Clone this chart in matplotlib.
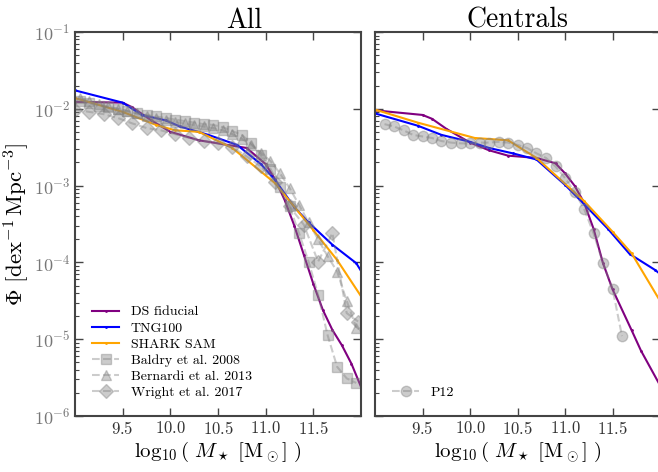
import numpy as np
from matplotlib import pyplot as plt

plt.rcParams["font.family"] = "serif"
plt.rcParams["font.serif"] = ["cmr10"]
plt.rcParams["mathtext.fontset"] = "cm"
plt.rcParams["axes.formatter.use_mathtext"] = True
plt.rcParams["axes.unicode_minus"] = True

# simulations, "All" panel (log10 Phi)
ds_all_x = [9.0, 9.5, 9.6, 9.8, 10.0, 10.3, 10.6, 10.8, 11.0, 11.1, 11.2, 11.3, 11.4, 11.5, 11.6, 11.7, 11.8, 11.9, 12.0]
ds_all_y = [-1.91, -1.92, -1.98, -2.15, -2.30, -2.41, -2.47, -2.51, -2.72, -2.92, -3.19, -3.52, -3.90, -4.28, -4.62, -4.88, -5.08, -5.32, -5.62]
tng_all_x = [9.0, 9.5, 9.7, 9.95, 10.1, 10.4, 10.7, 10.95, 11.1, 11.3, 11.45, 11.7, 11.95, 12.0]
tng_all_y = [-1.76, -1.92, -2.08, -2.15, -2.23, -2.34, -2.47, -2.72, -2.93, -3.28, -3.48, -3.77, -4.01, -4.11]
shark_all_x = [9.0, 9.5, 9.85, 10.05, 10.3, 10.65, 11.1, 11.5, 11.75, 12.0]
shark_all_y = [-1.86, -2.04, -2.21, -2.28, -2.30, -2.51, -2.97, -3.58, -3.97, -4.44]

# simulations, "Centrals" panel
ds_cen_x = [9.0, 9.5, 9.6, 9.75, 10.0, 10.2, 10.4, 10.7, 10.9, 11.0, 11.1, 11.2, 11.3, 11.4, 11.5, 11.7, 11.8, 12.0]
ds_cen_y = [-2.02, -2.08, -2.13, -2.26, -2.44, -2.54, -2.61, -2.64, -2.71, -2.84, -3.00, -3.22, -3.56, -4.01, -4.35, -4.88, -5.15, -5.60]
tng_cen_x = [9.0, 9.45, 9.7, 10.0, 10.2, 10.45, 10.7, 11.0, 11.2, 11.45, 11.68, 11.95, 12.0]
tng_cen_y = [-2.06, -2.22, -2.34, -2.43, -2.51, -2.58, -2.66, -2.99, -3.24, -3.56, -3.89, -4.10, -4.15]
shark_cen_x = [9.0, 9.45, 10.05, 10.4, 10.7, 11.2, 11.5, 11.7, 12.0]
shark_cen_y = [-2.01, -2.18, -2.38, -2.41, -2.64, -3.20, -3.60, -3.88, -4.50]

# observations
baldry_x = [9.05, 9.15, 9.25, 9.35, 9.45, 9.55, 9.65, 9.75, 9.85, 9.95, 10.05, 10.15, 10.25, 10.35, 10.45,
            10.55, 10.65, 10.75, 10.85, 10.95, 11.05, 11.15, 11.25, 11.35, 11.45, 11.55, 11.65, 11.75, 11.85, 11.95]
baldry_y = [-1.90, -1.93, -1.96, -1.98, -2.00, -2.03, -2.06, -2.08, -2.10, -2.12, -2.14, -2.16, -2.18, -2.20, -2.21,
            -2.24, -2.29, -2.34, -2.45, -2.60, -2.78, -3.02, -3.27, -3.62, -3.99, -4.42, -4.95, -5.36, -5.51, -5.57]
bernardi_x = [9.05, 9.15, 9.25, 9.35, 9.45, 9.55, 9.65, 9.75, 9.85, 9.95, 10.05, 10.15, 10.25, 10.35, 10.45,
              10.55, 10.65, 10.75, 10.85, 10.95, 11.05, 11.15, 11.25, 11.35, 11.45, 11.55, 11.65, 11.75, 11.85, 11.95]
bernardi_y = [-1.86, -1.90, -1.94, -1.97, -2.00, -2.03, -2.06, -2.09, -2.12, -2.15, -2.17, -2.19, -2.21, -2.23, -2.25,
              -2.28, -2.33, -2.39, -2.47, -2.57, -2.68, -2.84, -3.03, -3.25, -3.48, -3.70, -3.92, -4.12, -4.50, -4.85]
wright_x = [9.0, 9.15, 9.3, 9.45, 9.6, 9.75, 9.9, 10.05, 10.2, 10.35, 10.5, 10.65, 10.8, 10.95, 11.1, 11.25,
            11.4, 11.55, 11.7, 11.85, 11.97]
wright_y = [-2.01, -2.04, -2.07, -2.12, -2.19, -2.25, -2.28, -2.33, -2.38, -2.42, -2.45, -2.50, -2.62, -2.75, -2.95, -3.27,
            -3.51, -3.99, -3.62, -4.66, -4.77]
p12_x = [9.1, 9.2, 9.3, 9.4, 9.5, 9.6, 9.7, 9.8, 9.9, 10.0, 10.1, 10.2, 10.3, 10.4, 10.5, 10.6, 10.7,
         10.8, 10.9, 11.0, 11.1, 11.2, 11.3, 11.4, 11.5, 11.6]
p12_y = [-2.20, -2.23, -2.28, -2.34, -2.36, -2.38, -2.42, -2.44, -2.45, -2.45, -2.44, -2.44, -2.43, -2.44, -2.47, -2.51,
         -2.58, -2.64, -2.75, -2.90, -3.08, -3.30, -3.62, -4.01, -4.34, -4.96]

sim_kw = dict(lw=1.5, marker=".", ms=2)
obs_kw = dict(color="gray", ls="--", lw=1.5, alpha=0.4, ms=7.5)

fig = plt.figure(figsize=(6.58, 4.72), dpi=100)
ax1 = fig.add_axes([75 / 658, 56 / 472, 286 / 658, 384 / 472])
ax2 = fig.add_axes([375 / 658, 56 / 472, 285 / 658, 384 / 472])

ax1.plot(ds_all_x, 10 ** np.array(ds_all_y), color="purple", label="DS fiducial", **sim_kw)
ax1.plot(tng_all_x, 10 ** np.array(tng_all_y), color="blue", label="TNG100", **sim_kw)
ax1.plot(shark_all_x, 10 ** np.array(shark_all_y), color="orange", label="SHARK SAM", **sim_kw)
ax1.plot(baldry_x, 10 ** np.array(baldry_y), marker="s", label="Baldry et al. 2008", **obs_kw)
ax1.plot(bernardi_x, 10 ** np.array(bernardi_y), marker="^", label="Bernardi et al. 2013", **obs_kw)
ax1.plot(wright_x, 10 ** np.array(wright_y), marker="D", label="Wright et al. 2017", **obs_kw)

ax2.plot(ds_cen_x, 10 ** np.array(ds_cen_y), color="purple", **sim_kw)
ax2.plot(tng_cen_x, 10 ** np.array(tng_cen_y), color="blue", **sim_kw)
ax2.plot(shark_cen_x, 10 ** np.array(shark_cen_y), color="orange", **sim_kw)
ax2.plot(p12_x, 10 ** np.array(p12_y), marker="o", label="P12", **obs_kw)

for ax, title in [(ax1, "All"), (ax2, "Centrals")]:
    ax.set_yscale("log")
    ax.set_xlim(9.0, 12.0)
    ax.set_ylim(1e-6, 1e-1)
    ax.set_xticks([9.5, 10.0, 10.5, 11.0, 11.5])
    ax.set_xlabel(r"$\log_{10}(\ M_\star\ [\mathrm{M}_\odot]\ )$", fontsize=15, labelpad=2)
    for s in ax.spines.values():
        s.set_color("#444444")
        s.set_linewidth(1.5)
    ax.tick_params(which="both", direction="in", top=True, right=True, color="#444444")
    ax.tick_params(which="major", length=6, width=1.0)
    ax.tick_params(which="minor", length=3, width=0.8, right=False, top=False)
    ax.tick_params(axis="x", labelsize=12, labelcolor="#333333", pad=3)
    ax.tick_params(axis="y", labelsize=13, labelcolor="#777777")

ax1.set_title("All", fontsize=20, pad=3, x=0.59)
ax2.set_title("Centrals", fontsize=20, pad=3)
ax2.tick_params(axis="y", labelleft=False)
ax1.set_ylabel(r"$\Phi\ [\mathrm{dex}^{-1}\,\mathrm{Mpc}^{-3}]$", fontsize=16.5, labelpad=1)

ax1.legend(loc="lower left", frameon=False, fontsize=10, handlelength=2.0, borderaxespad=0.8, labelspacing=0.25)
ax2.legend(loc="lower left", frameon=False, fontsize=10, handlelength=2.0, borderaxespad=0.8)

fig.savefig("out.png", dpi=100)
